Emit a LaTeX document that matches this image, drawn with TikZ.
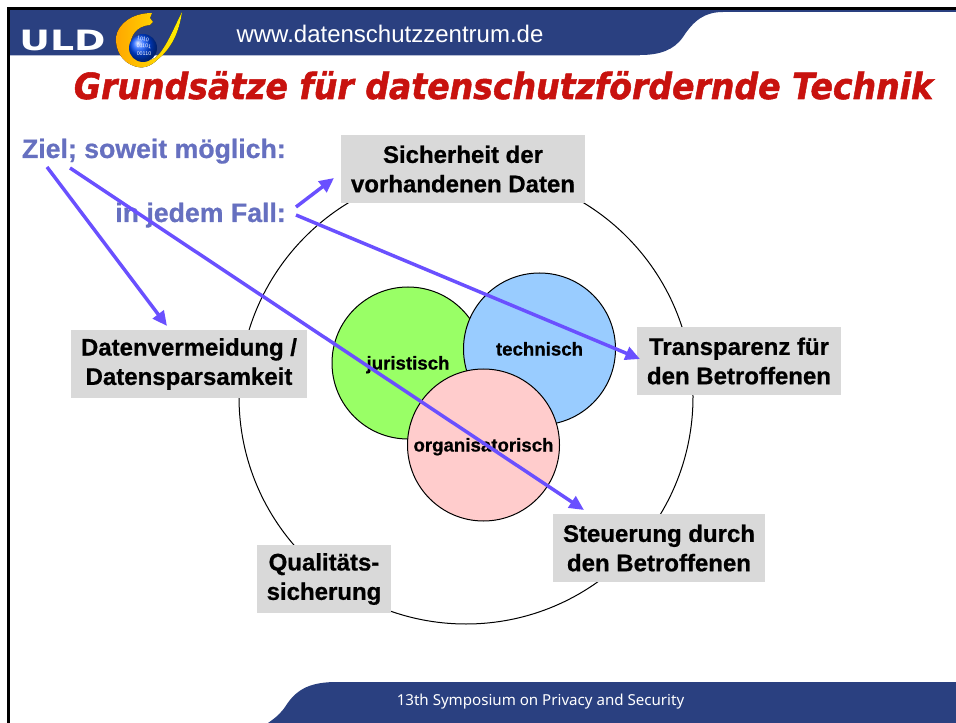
\documentclass[tikz,border=0pt]{standalone}
\usepackage{xcolor}
\usepackage{fontspec}
\setmainfont[BoldFeatures={FakeBold=0.7}]{Liberation Sans}
\newfontfamily\titlefont[BoldItalicFeatures={FakeBold=1.5}]{DejaVu Sans}
\newfontfamily\uldfont{DejaVu Sans}
\newfontfamily\footfont{Noto Sans}
\usetikzlibrary{arrows.meta}
\definecolor{uldblue}{HTML}{2A4080}
\definecolor{titlered}{HTML}{C8120E}
\definecolor{zieltext}{HTML}{6670C0}
\definecolor{zielarrow}{HTML}{6A50FF}
\definecolor{kreisgruen}{HTML}{99FF66}
\definecolor{kreisblau}{HTML}{99CCFF}
\definecolor{kreisrot}{HTML}{FFCCCC}
\tikzset{
	graubox/.style={
		fill=black!15,
		align=center,
		inner sep=0,
		execute at begin node={\rule{0pt}{15pt}},
		font=\fontsize{18}{22}\selectfont\bfseries
	},
	kreis/.style={
		circle,
		draw=black,
		line width=0.75pt,
		inner sep=0,
		minimum size=114pt,
		text height=9.8pt,
		text depth=0pt,
		font=\fontsize{14}{16}\selectfont\bfseries
	},
	zielnode/.style={
		anchor=base east,
		inner sep=0,
		text=zieltext,
		font=\fontsize{20}{24}\selectfont\bfseries
	},
	zielpfeil/.style={
		draw=zielarrow,
		line width=2.6pt,
		-{Triangle[length=11pt,width=10pt]}
	}
}

\begin{document}
\begin{tikzpicture}[x=0.75pt,y=-0.75pt]
	\useasboundingbox (0,0) rectangle (956,723);
	\fill[white] (0,0) rectangle (956,723);

	% banner
	\fill[uldblue] (10,10) -- (956,10) -- (956,12) -- (723,12) .. controls (705,12) and (694,20) .. (683,37) .. controls (674,50) and (660,55) .. (640,55) -- (10,55) -- cycle;
	\fill[uldblue!35] (10,55) rectangle (640,56);
	\fill[uldblue] (268,723) .. controls (278,716) and (282,712) .. (287,704) .. controls (298,688) and (312,682) .. (337,682) -- (956,682) -- (956,723) -- cycle;
	\draw[black,line width=2.25pt] (8.5,723) -- (8.5,8.5) -- (956,8.5);

	% logo
	\node[anchor=base west,inner sep=0,text=white,xscale=1.35] (uld) at (19,51) {\uldfont\fontsize{21}{21}\selectfont\bfseries ULD};
	\fill[left color=orange!70!yellow,right color=yellow!90!orange] (182,12) .. controls (179,32) and (172,48) .. (157,60) .. controls (150,67) and (142,69) .. (134,66) .. controls (122,62) and (115,50) .. (116,37) .. controls (118,24) and (132,13) .. (152,13) -- (150,18) -- (153,22) -- (150,25) .. controls (136,26) and (130,36) .. (130,48) .. controls (131,58) and (145,64) .. (155,58) .. controls (165,50) and (172,32) .. (182,12) -- cycle;
	\shade[ball color=blue!70!cyan] (143,48) circle (14);
	\begin{scope}
		\clip (143,48) circle (14);
		\node[text=white,inner sep=0,rotate=-10] (bits a) at (143,39) {\fontsize{4}{4}\selectfont 1010};
		\node[text=white,inner sep=0,rotate=-5] (bits b) at (144,46) {\fontsize{4}{4}\selectfont 01101};
		\node[text=white,inner sep=0] (bits c) at (144,54) {\fontsize{4}{4}\selectfont 00110};
	\end{scope}

	% header texts
	\node[text=white,inner sep=0,anchor=base] (url) at (390,43) {\fontsize{18}{20}\selectfont www.datenschutzzentrum.de};
	\node[text=white,inner sep=0,anchor=base] (foot) at (540.5,705) {\footfont\fontsize{11.33}{14}\selectfont 13th Symposium on Privacy and Security};
	\node[text=titlered,inner sep=0,anchor=base,xscale=0.92] (titel) at (503.5,99) {\titlefont\fontsize{27}{30}\selectfont\bfseries\itshape Grundsätze für datenschutzfördernde Technik};

	% (Kreise)
	\node[circle,draw=black,line width=0.75pt,minimum size=340.5pt,inner sep=0] (aussen) at (466,397) {};
	\node[graubox,minimum width=183pt,minimum height=51pt] (sicherheit) at (463,169) {Sicherheit der\\vorhandenen Daten};
	\node[graubox,minimum width=153pt,minimum height=51pt] (transparenz) at (739,361) {Transparenz für\\den Betroffenen};
	\node[graubox,minimum width=177pt,minimum height=51pt,execute at begin node={\rule{0pt}{16.5pt}}] (vermeidung) at (189,364) {Datenvermeidung /\\Datensparsamkeit};
	\node[graubox,minimum width=159pt,minimum height=51pt] (steuerung) at (659,548) {Steuerung durch\\den Betroffenen};
	\node[graubox,minimum width=100.5pt,minimum height=51pt,execute at begin node={\rule{0pt}{18pt}}] (qualitaet) at (324,579) {Qualitäts-\\sicherung};
	\node[kreis,fill=kreisgruen] (juristisch) at (408,363) {juristisch};
	\node[kreis,fill=kreisblau] (technisch) at (539.5,349) {technisch};
	\node[kreis,fill=kreisrot] (organisatorisch) at (483.5,445) {organisatorisch};

	\node[zielnode] (ziel) at (286,158) {Ziel; soweit möglich:};
	\node[zielnode] (fall) at (286,222) {in jedem Fall:};

	% (Pfeile)
	\coordinate (ziel a) at (47,167);
	\coordinate (ziel b) at (70,168);
	\coordinate (fall a) at (296,207);
	\coordinate (fall b) at (296,215);
	\coordinate (zu vermeidung) at (167,326);
	\coordinate (zu steuerung) at (584,510);
	\coordinate (zu sicherheit) at (334,178);
	\coordinate (zu transparenz) at (640,359);
	\draw[zielpfeil] (ziel a) -- (zu vermeidung);
	\draw[zielpfeil] (ziel b) -- (zu steuerung);
	\draw[zielpfeil] (fall a) -- (zu sicherheit);
	\draw[zielpfeil] (fall b) -- (zu transparenz);
\end{tikzpicture}
\end{document}
